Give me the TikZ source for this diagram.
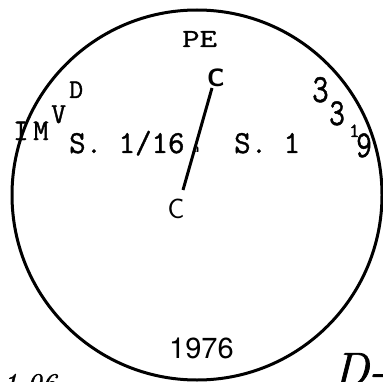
\documentclass[tikz,border=0pt]{standalone}
\usepackage{fontspec}
\newfontfamily\heros{TeX Gyre Heros}
\newfontfamily\ttb{Latin Modern Mono}[FakeBold=1.2]
\newfontfamily\handf{Latin Modern Roman}[FakeBold=1.5,ItalicFeatures={FakeBold=1.5}]
\begin{document}
\begin{tikzpicture}[x=1pt,y=-1pt,
  tw/.style={inner sep=0pt,anchor=base west,font=\ttb},
  hand/.style={inner sep=0pt,anchor=base west,font=\handf\itshape}]
\useasboundingbox (0,0) rectangle (382,382);
\draw[line width=3pt] (197,195) circle[radius=185];
% labels
\node[tw,font=\ttb\fontsize{26}{26}\selectfont] (pe) at (182,47) {\scalebox{1.3}[1]{PE}};
\node[tw,font=\ttb\fontsize{32}{32}\selectfont] (s16) at (69,153) {S. 1/16};
\node[tw,font=\ttb\fontsize{32}{32}\selectfont] (s1) at (234,153) {S. 1};
\node[tw,font=\ttb\fontsize{27}{27}\selectfont] (d) at (69,98) {D};
\node[tw,font=\ttb\fontsize{29}{29}\selectfont] (v) at (51,123) {V};
\node[tw,font=\ttb\fontsize{30}{30}\selectfont] (m) at (33,140) {M};
\node[tw,font=\ttb\fontsize{30}{30}\selectfont] (i) at (13,140) {I};
\node[tw,font=\ttb\fontsize{40}{40}\selectfont] (n1) at (312,102) {\scalebox{0.8}[1]{3}};
\node[tw,font=\ttb\fontsize{38}{38}\selectfont] (n2) at (329,125) {\scalebox{0.8}[1]{3}};
\node[tw,font=\ttb\fontsize{20}{20}\selectfont] (n3) at (349,137) {1};
\node[tw,font=\ttb\fontsize{38}{38}\selectfont] (n4) at (356,157) {\scalebox{0.8}[1]{9}};
\node[inner sep=0pt,anchor=base,font=\sffamily\bfseries\fontsize{25}{25}\selectfont] (cup) at (216,87) {C};
\node[inner sep=0pt,anchor=base,font=\sffamily\fontsize{28}{28}\selectfont] (clow) at (176,218) {C};
\coordinate (ltop) at (212,88);
\coordinate (lbot) at (183,190);
\draw[line width=3pt] (ltop) -- (lbot);
\node[inner sep=0pt,font=\sffamily\bfseries\fontsize{12}{12}\selectfont] (amark) at (196,150) {a};
\node[inner sep=0pt,anchor=base west,font=\heros\fontsize{29}{29}\selectfont] (year) at (169,358) {1976};
\node[hand,font=\handf\itshape\fontsize{30}{30}\selectfont] (ref) at (2,394) {1.06};
\node[hand,font=\handf\itshape\fontsize{48}{48}\selectfont] (dd) at (333,386) {D-};
\end{tikzpicture}
\end{document}
